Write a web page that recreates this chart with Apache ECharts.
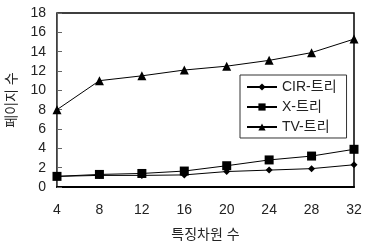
<!DOCTYPE html>
<html>
<head>
<meta charset="utf-8">
<script src="https://cdn.jsdelivr.net/npm/echarts@6/dist/echarts.min.js"></script>
<style>
  html, body { margin: 0; padding: 0; background: #fff; }
  #chart { width: 366px; height: 241px; }
</style>
</head>
<body>
<div id="chart"></div>
<script>
var dims = [4, 8, 12, 16, 20, 24, 28, 32];
var cirTree = [1.1, 1.2, 1.2, 1.25, 1.6, 1.75, 1.9, 2.3];
var xTree = [1.1, 1.3, 1.4, 1.65, 2.2, 2.8, 3.2, 3.9];
var tvTree = [8, 11, 11.5, 12.1, 12.5, 13.1, 13.9, 15.3];
var yTicks = [0, 2, 4, 6, 8, 10, 12, 14, 16, 18];

var fontFam = '"Liberation Sans", Arial, "Noto Sans CJK KR", sans-serif';

function pairs(vals) {
    return dims.map(function (d, i) { return [d, vals[i]]; });
}

var chart = echarts.init(document.getElementById('chart'));

var lineStyle = { color: '#000', width: 1 };

var option = {
    animation: false,
    backgroundColor: '#fff',
    grid: {
        left: 57, right: 12, top: 13, bottom: 54,
        outerBoundsMode: 'none',
        containLabel: false,
        show: true, borderColor: '#000', borderWidth: 1.5
    },
    legend: {
        orient: 'vertical',
        left: 240, top: 75,
        itemWidth: 30, itemHeight: 9, itemGap: 6,
        padding: [5, 10, 4, 6],
        borderColor: '#333', borderWidth: 1,
        backgroundColor: '#fff',
        textStyle: { fontFamily: fontFam, fontSize: 14, color: '#222' },
        data: ['CIR-트리', 'X-트리', 'TV-트리']
    },
    xAxis: {
        type: 'value',
        min: 4, max: 32, interval: 4,
        name: '특징차원 수',
        nameLocation: 'middle',
        nameGap: 41,
        nameTextStyle: { fontFamily: fontFam, fontSize: 14, color: '#222' },
        axisLine: { lineStyle: { color: '#000', width: 2 } },
        axisTick: { show: false },
        splitLine: { show: false },
        axisLabel: {
            margin: 16, fontFamily: fontFam, fontSize: 14, color: '#222',
            formatter: function (v) { return dims.indexOf(v) >= 0 ? String(v) : ''; }
        }
    },
    yAxis: {
        type: 'value',
        min: 0, max: 18, interval: 2,
        name: '페이지 수',
        nameLocation: 'middle',
        nameGap: 36,
        nameTextStyle: { fontFamily: fontFam, fontSize: 14, color: '#222' },
        axisLine: { show: true, lineStyle: { color: '#666', width: 1 } },
        axisTick: { show: true, inside: true, length: 5, lineStyle: { color: '#666' } },
        splitLine: { show: false },
        axisLabel: {
            margin: 11, fontFamily: fontFam, fontSize: 14, color: '#222',
            formatter: function (v) { return yTicks.indexOf(v) >= 0 ? String(v) : ''; }
        }
    },
    series: [
        {
            name: 'CIR-트리', type: 'line', data: pairs(cirTree),
            symbol: 'diamond', symbolSize: 7,
            lineStyle: lineStyle, itemStyle: { color: '#000' }
        },
        {
            name: 'X-트리', type: 'line', data: pairs(xTree),
            symbol: 'rect', symbolSize: 9,
            lineStyle: lineStyle, itemStyle: { color: '#000' }
        },
        {
            name: 'TV-트리', type: 'line', data: pairs(tvTree),
            symbol: 'triangle', symbolSize: 9,
            lineStyle: lineStyle, itemStyle: { color: '#000' }
        }
    ]
};

chart.setOption(option);
</script>
</body>
</html>
